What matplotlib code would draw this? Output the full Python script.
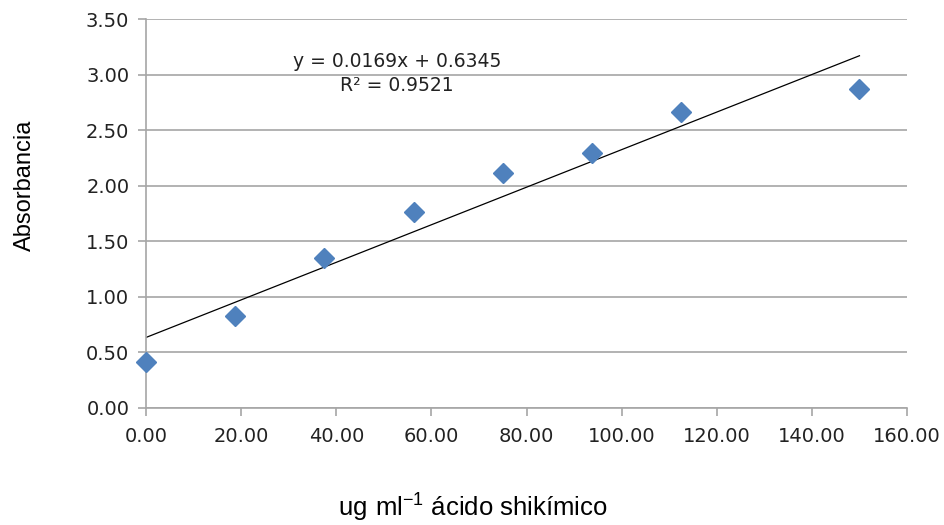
import numpy as np
import matplotlib
matplotlib.use("Agg")
import matplotlib.pyplot as plt

# datos de la curva de calibración
concentracion = [0.00, 18.75, 37.50, 56.25, 75.00, 93.75, 112.50, 150.00]
absorbancia = [0.41, 0.83, 1.35, 1.76, 2.11, 2.29, 2.66, 2.87]
pendiente = 0.0169
intercepto = 0.6345
r2 = 0.9521

plt.rcParams["mathtext.fontset"] = "custom"
plt.rcParams["mathtext.rm"] = "Liberation Sans"
plt.rcParams["mathtext.default"] = "regular"

fig = plt.figure(figsize=(9.45, 5.25), dpi=100)
ax = fig.add_axes([0.1545, 0.2229, 0.8053, 0.7409])

gris = "#A6A6A6"

# línea de tendencia
xl = np.array([min(concentracion), max(concentracion)])
ax.plot(xl, pendiente * xl + intercepto, color="black", lw=0.9, zorder=2)

ax.plot(concentracion, absorbancia, linestyle="none", marker="D",
        markersize=10.5, color="#4F81BD", markeredgecolor="#4F81BD", zorder=3,
        clip_on=False)

ax.set_xlim(0, 160)
ax.set_ylim(0, 3.5)
ax.set_xticks(np.arange(0, 161, 20))
ax.set_yticks(np.arange(0, 3.51, 0.5))
ax.set_xticklabels([f"{v:.2f}" for v in np.arange(0, 161, 20)])
ax.set_yticklabels([f"{v:.2f}" for v in np.arange(0, 3.51, 0.5)])

ax.grid(axis="y", color=gris, lw=1.2)
ax.set_axisbelow(True)
for s in ["top", "right"]:
    ax.spines[s].set_visible(False)
for s in ["left", "bottom"]:
    ax.spines[s].set_color(gris)
    ax.spines[s].set_linewidth(1.2)
ax.tick_params(axis="both", colors=gris, length=6, width=1.2, labelsize=14,
               labelcolor="#222222")
ax.tick_params(axis="x", pad=8)
ax.tick_params(axis="y", pad=6)

ax.text(52.8, 3.12, f"y = {pendiente}x + {intercepto}", ha="center",
        va="center", fontsize=13.5, color="#222222")
ax.text(52.8, 2.90, f"R² = {r2}", ha="center", va="center",
        fontsize=13.5, color="#222222")

fig.text(25 / 945, 1 - 185 / 525, "Absorbancia", rotation=90, ha="center",
         va="center", fontsize=17, family="Liberation Sans")
fig.text(473 / 945, 1 - 508 / 525, "$\\mathregular{ug\\ ml^{-1}}$ ácido shikímico",
         ha="center", va="center", fontsize=18.5, family="Liberation Sans")

fig.savefig("out.png", dpi=100)
